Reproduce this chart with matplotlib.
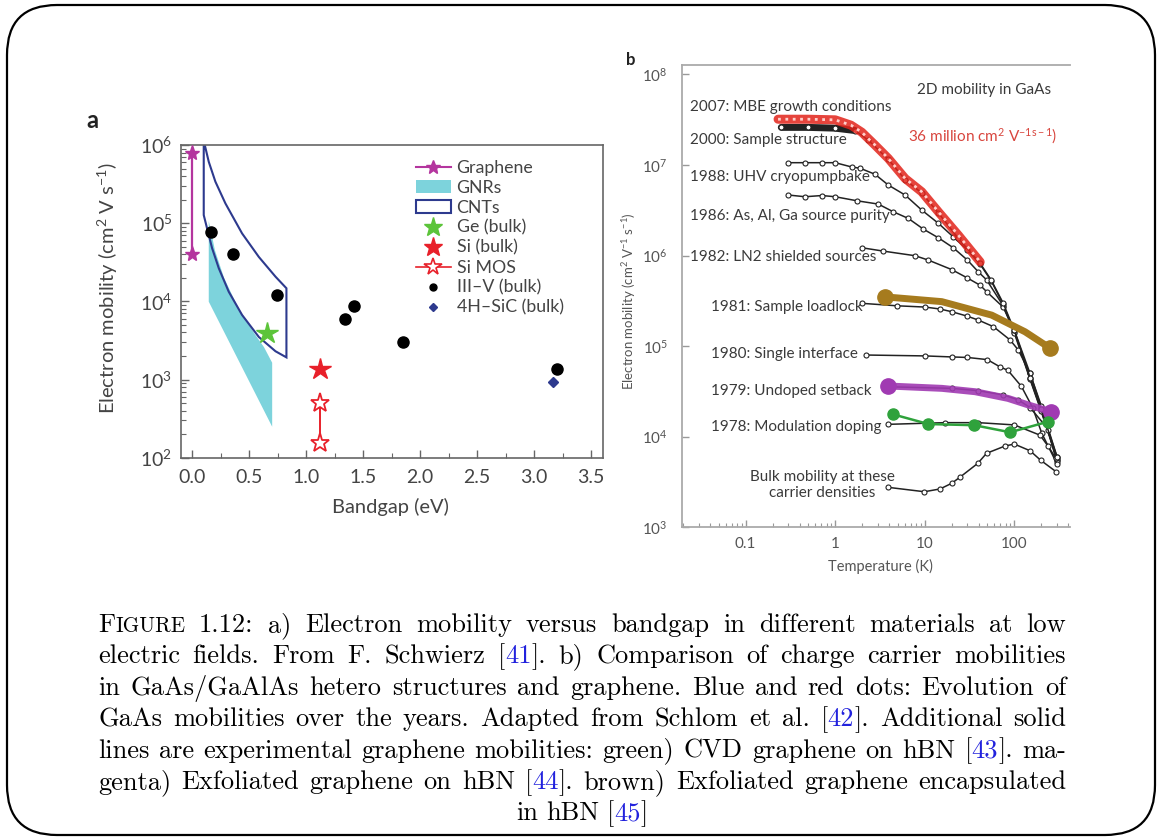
import re
import matplotlib
matplotlib.use("Agg")
import matplotlib.pyplot as plt
from matplotlib.patches import FancyBboxPatch, Polygon, Patch
from matplotlib.lines import Line2D
from matplotlib.ticker import FixedLocator, LogLocator, NullFormatter, MultipleLocator

plt.rcParams['font.family'] = ['Lato', 'DejaVu Sans']
plt.rcParams['mathtext.fontset'] = 'custom'
plt.rcParams['mathtext.rm'] = 'Lato'
plt.rcParams['mathtext.it'] = 'Lato:italic'
plt.rcParams['mathtext.bf'] = 'Lato:bold'

# ---------------- panel a data (bandgap eV, mobility cm2/Vs) ----------------
graphene_x = [0.0, 0.0]
graphene_mu = [4.0e4, 8.0e5]
gnr_x = [0.146, 0.146, 0.702, 0.702, 0.63, 0.55, 0.40, 0.28, 0.20, 0.165]
gnr_mu = [1.06e5, 9.9e3, 249, 1.64e3, 2.6e3, 3.8e3, 8.5e3, 2.0e4, 4.5e4, 8.0e4]
cnt_x = [0.102, 0.102, 0.131, 0.175, 0.234, 0.321, 0.438, 0.585, 0.731, 0.827,
         0.827, 0.731, 0.585, 0.438, 0.292, 0.204, 0.146, 0.111, 0.105]
cnt_mu = [2e6, 1.27e5, 8.6e4, 4.8e4, 2.65e4, 1.33e4, 6.7e3, 3.5e3, 2.3e3, 1.92e3,
          1.47e4, 2.07e4, 3.7e4, 7.4e4, 1.79e5, 3.4e5, 6.1e5, 1.0e6, 2e6]
ge_x, ge_mu = [0.66], [3.9e3]
si_x, si_mu = [1.12], [1.35e3]
simos_x, simos_mu = [1.12, 1.12], [153, 500]
iiiv_x = [0.17, 0.355, 0.74, 1.34, 1.42, 1.85, 3.20]
iiiv_mu = [7.7e4, 4.0e4, 1.19e4, 6.0e3, 8.6e3, 3.0e3, 1.38e3]
sic_x, sic_mu = [3.16], [940]
legend_labels = ['Graphene', 'GNRs', 'CNTs', 'Ge (bulk)', 'Si (bulk)', 'Si MOS',
                 'III\u2013V (bulk)', '4H\u2013SiC (bulk)']

# ---------------- panel b data (temperature K, mobility) ----------------
t_2007 = [0.23, 0.5, 1.0, 1.5, 1.98, 2.78, 3.92, 6.03, 9.25, 14.2, 23.7, 41.6]
mu_2007 = [3.2e7, 3.2e7, 3.15e7, 2.75e7, 2.3e7, 1.66e7, 1.18e7, 7.1e6, 5.06e6, 3.04e6, 1.68e6, 8.5e5]
t_2000 = [0.25, 0.5, 1.0, 1.67, 2.34, 3.92, 6.03, 9.25, 14.2, 23.7, 41.6, 55, 75, 100, 150, 200, 300]
mu_2000 = [2.6e7, 2.6e7, 2.55e7, 2.4e7, 1.88e7, 1.15e7, 6.9e6, 4.9e6, 2.95e6, 1.55e6, 8.2e5,
           5.4e5, 3.0e5, 1.5e5, 4.5e4, 2.0e4, 6.0e3]
t_1988 = [0.30, 0.46, 0.71, 1.0, 1.53, 1.9, 2.78, 3.92, 6.03, 9.25, 14.2, 20.8, 30, 41.6, 55,
          75, 100, 150, 200, 300]
mu_1988 = [1.06e7, 1.06e7, 1.06e7, 1.06e7, 9.5e6, 9.2e6, 7.9e6, 6.0e6, 4.66e6, 3.18e6, 2.27e6,
           1.61e6, 1.15e6, 8.0e5, 5.3e5, 2.9e5, 1.45e5, 4.4e4, 1.95e4, 5.8e3]
t_1986 = [0.30, 0.46, 0.71, 1.0, 1.74, 3.03, 4.46, 6.56, 9.64, 14.2, 20.8, 30, 39.7, 49, 75,
          100, 150, 200, 300]
mu_1986 = [4.66e6, 4.46e6, 4.6e6, 4.46e6, 4.03e6, 3.7e6, 3.04e6, 2.57e6, 1.96e6, 1.57e6, 1.22e6,
           8.9e5, 6.6e5, 5.4e5, 2.8e5, 1.4e5, 4.3e4, 1.9e4, 5.6e3]
t_1982 = [1.98, 3.44, 7.8, 11, 20, 29.5, 41.6, 49, 75, 100, 150, 200, 300]
mu_1982 = [1.22e6, 1.12e6, 9.96e5, 8.9e5, 7.0e5, 5.7e5, 4.7e5, 4.0e5, 2.7e5, 1.5e5, 5.0e4, 2.1e4, 5.5e3]
t_1981 = [1.98, 4.87, 10.1, 14.8, 20, 29.5, 39.7, 58.5, 89.8, 111, 150, 200, 300]
mu_1981 = [2.97e5, 2.79e5, 2.7e5, 2.57e5, 2.4e5, 2.15e5, 1.94e5, 1.64e5, 1.17e5, 9.05e4, 5.0e4, 2.2e4, 5.2e3]
t_1980 = [2.19, 10.1, 20, 30, 50, 69.3, 85, 120, 160, 203, 300]
mu_1980 = [7.98e4, 7.8e4, 7.6e4, 7.5e4, 7.1e4, 5.9e4, 5.4e4, 3.6e4, 2.1e4, 1.09e4, 5.0e3]
t_1979 = [3.92, 20, 39.7, 75.5, 111, 150, 241, 300]
mu_1979 = [3.56e4, 3.42e4, 3.22e4, 2.89e4, 2.55e4, 2.1e4, 1.2e4, 6.0e3]
t_1978 = [3.92, 16.8, 39.7, 100, 194, 240, 290]
mu_1978 = [1.37e4, 1.43e4, 1.43e4, 1.35e4, 1.04e4, 7.8e3, 5.8e3]
t_bulk = [3.92, 9.9, 14.8, 20, 24.6, 39.1, 49, 78.9, 100, 150, 197, 294]
mu_bulk = [2.76e3, 2.47e3, 2.65e3, 3.06e3, 3.56e3, 5.08e3, 6.56e3, 7.9e3, 8.3e3, 7.0e3, 5.5e3, 4.1e3]
t_brown = [3.59, 15.5, 56, 132, 251]
mu_brown = [3.5e5, 3.1e5, 2.2e5, 1.44e5, 9.5e4]
t_magenta = [3.92, 15.5, 36.5, 85, 144, 256]
mu_magenta = [3.63e4, 3.42e4, 3.14e4, 2.65e4, 2.24e4, 1.89e4]
t_green = [4.39, 11, 35.8, 89.8, 241]
mu_green = [1.77e4, 1.38e4, 1.34e4, 1.12e4, 1.47e4]

curve_labels = ['2007: MBE growth conditions', '2000: Sample structure', '1988: UHV cryopumpbake',
                '1986: As, Al, Ga source purity', '1982: LN2 shielded sources',
                '1981: Sample loadlock', '1980: Single interface', '1979: Undoped setback',
                '1978: Modulation doping']

caption_lines = [
    "FIGURE 1.12: a) Electron mobility versus bandgap in different materials at low",
    "electric fields. From F. Schwierz [41]. b) Comparison of charge carrier mobilities",
    "in GaAs/GaAlAs hetero structures and graphene. Blue and red dots: Evolution of",
    "GaAs mobilities over the years. Adapted from Schlom et al. [42]. Additional solid",
    "lines are experimental graphene mobilities: green) CVD graphene on hBN [43]. ma-",
    "genta) Exfoliated graphene on hBN [44]. brown) Exfoliated graphene encapsulated",
    "in hBN [45]",
]

MAG = '#b4359e'
CYAN = '#7dd3dc'
NAVY = '#2d3a8e'
GREEN = '#5cc43a'
RED = '#e8202a'
TXT = '#444444'

fig = plt.figure(figsize=(11.62, 8.4), dpi=100)

# background axes in pixel units for the frame and the caption
bg = fig.add_axes([0, 0, 1, 1])
bg.set_xlim(0, 1162)
bg.set_ylim(840, 0)
bg.axis('off')
bg.add_patch(FancyBboxPatch((7, 5), 1148, 830, boxstyle="round,pad=0,rounding_size=50",
                            fc='none', ec='black', lw=1.6))

# ---------------- panel a ----------------
ax = fig.add_axes([180.7 / 1162, 1 - 457.7 / 840, 422 / 1162, 312.7 / 840])
ax.set_facecolor('none')
ax.set_yscale('log')
ax.set_xlim(-0.1, 3.6)
ax.set_ylim(1e2, 1e6)

ax.add_patch(Polygon(list(zip(gnr_x, gnr_mu)), closed=True, fc=CYAN, ec='none', zorder=1))
ax.add_patch(Polygon(list(zip(cnt_x, cnt_mu)), closed=True, fc='none', ec=NAVY, lw=1.5, zorder=2))
ax.plot(graphene_x, graphene_mu, color=MAG, lw=1.6, marker='*', ms=11, zorder=3)
ax.plot(simos_x, simos_mu, color=RED, lw=1.4, marker='*', ms=14, mfc='white', mec=RED, mew=1.3, zorder=3)
ax.plot(ge_x, ge_mu, ls='none', marker='*', ms=16, color=GREEN, zorder=4)
ax.plot(si_x, si_mu, ls='none', marker='*', ms=16, color=RED, zorder=4)
ax.plot(iiiv_x, iiiv_mu, ls='none', marker='o', ms=8, color='black', zorder=4)
ax.plot(sic_x, sic_mu, ls='none', marker='D', ms=5.5, color=NAVY, zorder=4)

ax.xaxis.set_major_locator(MultipleLocator(0.5))
ax.xaxis.set_minor_locator(MultipleLocator(0.25))
ax.xaxis.set_major_formatter(plt.FuncFormatter(lambda v, p: f"{v:.1f}"))
ax.yaxis.set_major_locator(FixedLocator([1e2, 1e3, 1e4, 1e5, 1e6]))
ax.set_yticklabels([r'$\mathregular{10^{%d}}$' % k for k in range(2, 7)])
ax.yaxis.set_minor_locator(LogLocator(base=10, subs=range(2, 10)))
ax.yaxis.set_minor_formatter(NullFormatter())
ax.tick_params(which='both', direction='in', colors='#666666', labelcolor=TXT, labelsize=14)
ax.tick_params(which='major', length=6, width=1)
ax.tick_params(which='minor', length=3.5, width=0.8)
ax.tick_params(axis='x', pad=8)
ax.tick_params(axis='y', pad=6)
for s in ax.spines.values():
    s.set_color('#666666')
    s.set_linewidth(1.2)
ax.set_xlabel('Bandgap (eV)', fontsize=14.5, color=TXT)
ax.set_ylabel(r'Electron mobility (cm$^{2}$ V s$^{-1}$)', fontsize=14.5, color=TXT)
ax.xaxis.set_label_coords(0.496, -0.13)
ax.yaxis.set_label_coords(-0.145, 0.543)

handles = [
    Line2D([], [], color=MAG, lw=1.5, marker='*', ms=10),
    Patch(fc=CYAN, ec='none'),
    Patch(fc='white', ec=NAVY, lw=1.5),
    Line2D([], [], ls='none', marker='*', ms=14, color=GREEN),
    Line2D([], [], ls='none', marker='*', ms=14, color=RED),
    Line2D([], [], color=RED, lw=1.2, marker='*', ms=13, mfc='white', mew=1.2),
    Line2D([], [], ls='none', marker='o', ms=5, color='black'),
    Line2D([], [], ls='none', marker='D', ms=4, color=NAVY),
]
leg = ax.legend(handles, legend_labels, loc='upper left', bbox_to_anchor=(0.54, 0.975),
                frameon=False, fontsize=12.8, labelspacing=0.22, handlelength=2.0,
                handletextpad=0.3, borderaxespad=0)
for t in leg.get_texts():
    t.set_color(TXT)

bg.text(86, 120, 'a', fontsize=17, fontweight='bold', va='center', color='#222222')

# ---------------- panel b ----------------
bx = fig.add_axes([681.7 / 1162, 1 - 527.3 / 840, 388.3 / 1162, 462.3 / 840])
bx.set_facecolor('none')
bx.set_xscale('log')
bx.set_yscale('log')
bx.set_xlim(0.0193, 419)
bx.set_ylim(1e3, 1.27e8)

mk = dict(marker='o', ms=3.6, mfc='white', mec='#222222', mew=0.8)
for tt, mm in [(t_1988, mu_1988), (t_1986, mu_1986), (t_1982, mu_1982), (t_1981, mu_1981),
               (t_1980, mu_1980), (t_1979, mu_1979), (t_1978, mu_1978), (t_bulk, mu_bulk)]:
    bx.plot(tt, mm, color='#222222', lw=1.1, zorder=3, **mk)
bx.plot(t_2000[:4], mu_2000[:4], color='#222222', lw=5, solid_capstyle='round', zorder=3)
bx.plot(t_2000, mu_2000, color='#222222', lw=1.1, zorder=3, **mk)
bx.plot(t_2007, mu_2007, color='#e2231a', lw=6.5, alpha=0.85, solid_capstyle='round', zorder=4)
bx.plot(t_2007, mu_2007, ls=':', color='#ffd0cc', lw=2, zorder=5)
bx.plot(t_brown, mu_brown, color='#a67b1e', lw=5, zorder=6, solid_capstyle='round')
bx.plot([t_brown[0], t_brown[-1]], [mu_brown[0], mu_brown[-1]], ls='none', marker='o', ms=11,
        color='#a67b1e', zorder=6)
bx.plot(t_magenta, mu_magenta, color='#a03ab2', lw=5, alpha=0.9, zorder=6, solid_capstyle='round')
bx.plot([t_magenta[0], t_magenta[-1]], [mu_magenta[0], mu_magenta[-1]], ls='none', marker='o',
        ms=11, color='#a03ab2', zorder=6)
bx.plot(t_green, mu_green, color='#2fa23c', lw=1.8, marker='o', ms=8, zorder=6)

bx.xaxis.set_major_locator(FixedLocator([0.1, 1, 10, 100]))
bx.set_xticklabels(['0.1', '1', '10', '100'])
bx.xaxis.set_minor_locator(LogLocator(base=10, subs=range(2, 10)))
bx.xaxis.set_minor_formatter(NullFormatter())
bx.yaxis.set_major_locator(FixedLocator([1e3, 1e4, 1e5, 1e6, 1e7, 1e8]))
bx.set_yticklabels([r'$\mathregular{10^{%d}}$' % k for k in range(3, 9)])
bx.yaxis.set_minor_locator(FixedLocator([]))
bx.tick_params(which='both', direction='in', colors='#999999', labelcolor='#555555', labelsize=11)
bx.tick_params(which='major', length=5, width=1)
bx.tick_params(which='minor', length=3, width=0.8)
bx.tick_params(axis='x', pad=7)
bx.tick_params(axis='y', pad=10)
bx.spines['right'].set_visible(False)
for k in ['left', 'bottom', 'top']:
    bx.spines[k].set_color('#aaaaaa')
    bx.spines[k].set_linewidth(1.3)
bx.set_xlabel('Temperature (K)', fontsize=10.5, color='#555555')
bx.set_ylabel(r'Electron mobility (cm$^{2}$ V$^{-1}$ s$^{-1}$)', fontsize=9.5, color='#555555')
bx.xaxis.set_label_coords(0.513, -0.068)
bx.yaxis.set_label_coords(-0.112, 0.49)

label_pos = [(690, 106.7), (690, 140), (690, 176.7), (690, 215.7), (690, 256.7),
             (710.7, 307.3), (710.7, 354.3), (710.7, 391), (710.7, 426.7)]
for s, (x, y) in zip(curve_labels, label_pos):
    bg.text(x, y, s, fontsize=11, color='#3a3a3a', va='center', ha='left', zorder=10)
bg.text(822, 485, 'Bulk mobility at these\ncarrier densities', fontsize=11, color='#3a3a3a',
        ha='center', va='center', linespacing=1.2)
bg.text(917, 90, '2D mobility in GaAs', fontsize=11, color='#3a3a3a', va='center')
bg.text(908, 136.7, r'36 million cm$^{2}$ V$^{-1\mathregular{s}-1}$)', fontsize=11,
        color='#d8453d', va='center')
bg.text(626, 60, 'b', fontsize=12, fontweight='bold', va='center', color='#222222')

# ---------------- caption (justified, Computer Modern) ----------------
renderer = fig.canvas.get_renderer()
BLUE = '#2222dd'


def word_parts(w):
    if w == 'FIGURE':
        return [('F', 'black', 1.0), ('IGURE', 'black', 0.8)]
    m = re.match(r'^\[(\d+)\](.*)$', w)
    if m:
        return [('[', 'black', 1.0), (m.group(1), BLUE, 1.0), (']' + m.group(2), 'black', 1.0)]
    return [(w, 'black', 1.0)]


def measure(s, size):
    t = bg.text(0, 0, s, fontsize=size, family='cmr10')
    w = t.get_window_extent(renderer).width
    t.remove()
    return w


X0, X1 = 98, 1066
size = 19
nat = []
for line in caption_lines[:-1]:
    ws = sum(measure(p[0], size * p[2]) for w in line.split() for p in word_parts(w))
    nat.append(ws + (len(line.split()) - 1) * 0.22 * size * 100 / 72)
if max(nat) > X1 - X0:
    size *= (X1 - X0) / max(nat) * 0.995

base = 632
for i, line in enumerate(caption_lines):
    words = line.split()
    widths = [sum(measure(p[0], size * p[2]) for p in word_parts(w)) for w in words]
    if i < len(caption_lines) - 1:
        gap = (X1 - X0 - sum(widths)) / (len(words) - 1)
        x = X0
    else:
        gap = 0.3 * size * 100 / 72
        x = (X0 + X1) / 2 - (sum(widths) + gap * (len(words) - 1)) / 2
    y = base + i * 31.4
    for w, ww in zip(words, widths):
        xx = x
        for s, c, k in word_parts(w):
            bg.text(xx, y, s, fontsize=size * k, family='cmr10', color=c, va='baseline')
            xx += measure(s, size * k)
        x += ww + gap

fig.savefig('out.png', dpi=100)
